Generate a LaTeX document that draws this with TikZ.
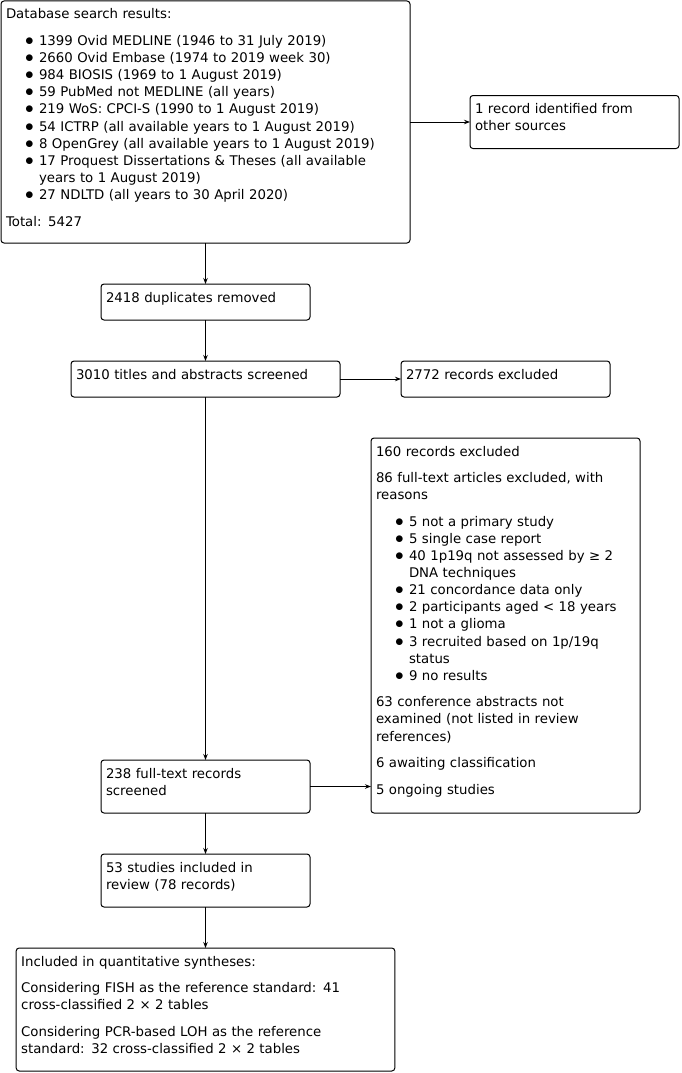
\documentclass[tikz,border=0pt]{standalone}
\usepackage{fontspec}
\setmainfont{DejaVu Sans}
\usetikzlibrary{positioning,arrows.meta}

% paragraph gap and bullet item inside the boxes
\newcommand{\gap}{\par\vspace{9.5pt}}
\newcommand{\bitem}[1]{\par\hangindent=33pt\hangafter=1\noindent\hspace*{19pt}\makebox[14pt][l]{\fontsize{18}{17.1}\selectfont$\bullet$}#1}

\tikzset{
  flowbox/.style={draw, rounded corners=3pt, outer sep=0pt,
    inner xsep=5pt, inner ysep=5pt, align=left, text height=13pt,
    font=\fontsize{13.3}{17.1}\selectfont\setlength{\parskip}{0pt}},
}

\begin{document}
\begin{tikzpicture}[x=1pt, y=1pt, node distance=41pt, line width=1pt,
    >={Stealth[length=6pt,width=4.5pt]}]
  \useasboundingbox (0,0) rectangle (682,-1073);

  % left column
  \node[flowbox, anchor=north west, text width=399pt, text depth=219pt] (search) at (1,-1) {Database search results:\gap
    \bitem{1399 Ovid MEDLINE (1946 to 31 July 2019)}
    \bitem{2660 Ovid Embase (1974 to 2019 week 30)}
    \bitem{984 BIOSIS (1969 to 1 August 2019)}
    \bitem{59 PubMed not MEDLINE (all years)}
    \bitem{219 WoS: CPCI-S (1990 to 1 August 2019)}
    \bitem{54 ICTRP (all available years to 1 August 2019)}
    \bitem{8 OpenGrey (all available years to 1 August 2019)}
    \bitem{17 Proquest Dissertations \& Theses (all available\newline years to 1 August 2019)}
    \bitem{27 NDLTD (all years to 30 April 2020)}\gap
    Total: 5427};
  \node[flowbox, below=of search, text width=199pt, text depth=13pt] (dup) {2418 duplicates removed};
  \node[flowbox, below=of dup, text width=259pt, text depth=13pt] (screen) {3010 titles and abstracts screened};
  \node[flowbox, below=363pt of screen, text width=199pt, text depth=30pt] (full) {238 full-text records\\screened};
  \node[flowbox, below=of full, text width=199pt, text depth=30pt] (incl) {53 studies included in\\review (78 records)};
  \node[flowbox, below=of incl, text width=368.6pt, text depth=100pt] (synth) {Included in quantitative syntheses:\gap
    Considering FISH as the reference standard: 41\\cross-classified 2 × 2 tables\gap
    Considering PCR-based LOH as the reference\\standard: 32 cross-classified 2 × 2 tables};

  % right column
  \node[flowbox, right=60pt of search, text width=199pt, text depth=30pt] (other) {1 record identified from\\other sources};
  \node[flowbox, right=61pt of screen, text width=199pt, text depth=13pt] (excl1) {2772 records excluded};
  \node[flowbox, right=61pt of full.south east, anchor=south west, text width=259pt, text depth=352pt] (excl2) {160 records excluded\gap
    86 full-text articles excluded, with\\reasons\gap
    \bitem{5 not a primary study}
    \bitem{5 single case report}
    \bitem{40 1p19q not assessed by ≥ 2\newline DNA techniques}
    \bitem{21 concordance data only}
    \bitem{2 participants aged < 18 years}
    \bitem{1 not a glioma}
    \bitem{3 recruited based on 1p/19q\newline status}
    \bitem{9 no results}\gap
    63 conference abstracts not\\examined (not listed in review\\references)\gap
    6 awaiting classification\gap
    5 ongoing studies};

  % connectors
  \draw[->] (search) -- (dup);
  \draw[->] (dup) -- (screen);
  \draw[->] (screen) -- (full);
  \draw[->] (full) -- (incl);
  \draw[->] (incl) -- (synth);
  \draw[->] (search.east) -- (search.east -| other.west);
  \draw[->] (screen) -- (excl1);
  \draw[->] (full.east) -- (full.east -| excl2.west);
\end{tikzpicture}
\end{document}
